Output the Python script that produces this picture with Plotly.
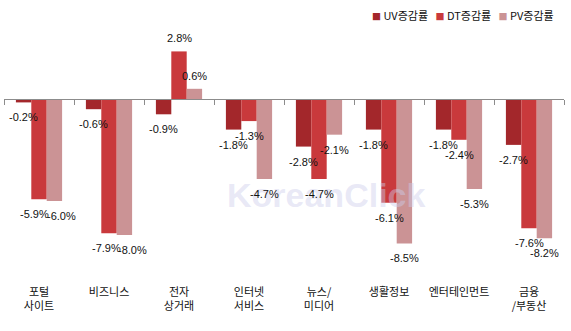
import plotly.graph_objects as go

categories = ["포털<br>사이트", "비즈니스", "전자<br>상거래", "인터넷<br>서비스",
              "뉴스/<br>미디어", "생활정보", "엔터테인먼트", "금융<br>/부동산"]
series_names = ["UV증감률", "DT증감률", "PV증감률"]
uv = [-0.2, -0.6, -0.9, -1.8, -2.8, -1.8, -1.8, -2.7]
dt = [-5.9, -7.9, 2.8, -1.3, -4.7, -6.1, -2.4, -7.6]
pv = [-6.0, -8.0, 0.6, -4.7, -2.1, -8.5, -5.3, -8.2]
colors = ["#A3272B", "#C9393C", "#CB9395"]

FONT = "Noto Sans CJK KR, Malgun Gothic, sans-serif"
LABEL_FONT = "Liberation Sans, Arial, sans-serif"

# styling: label nudges (pixels) for labels that were moved apart in the original
label_nudge = {(1, 0): -5, (2, 0): 7, (1, 1): -3, (2, 1): 8}

W, H = 571, 331
ML, MR, MT, MB = 4, 7, 30, 51
BARGAP = 0.34
plot_w = W - ML - MR
bar_px = plot_w / len(categories) * (1 - BARGAP) / 3

fig = go.Figure()
annotations = []
for i, (name, vals, col) in enumerate(zip(series_names, [uv, dt, pv], colors)):
    fig.add_trace(go.Bar(x=categories, y=vals, name=name, marker_color=col,
                         marker_line_width=0, showlegend=False))
    for j, v in enumerate(vals):
        annotations.append(dict(
            x=categories[j], y=v, xref="x", yref="y", text=f"{v:.1f}%",
            showarrow=False, xanchor="center", yanchor="middle",
            xshift=(i - 1) * bar_px + label_nudge.get((i, j), 0),
            yshift=-15 if v < 0 else 13,
            font=dict(size=11, color="#111111", family=LABEL_FONT)))

# secondary axis for the zero line with category-boundary ticks
fig.add_trace(go.Scatter(x=[-0.5, 7.5], y=[0, 0], xaxis="x2", mode="lines",
                         line=dict(color="rgba(0,0,0,0)"), showlegend=False,
                         hoverinfo="skip"))

ymin, ymax = -10.65, 4.06
zero_frac = (0 - ymin) / (ymax - ymin)

legend_text = "&nbsp;&nbsp;&nbsp;".join(
    f"<span style='color:{c};font-size:9px'>■</span>&nbsp;{n}"
    for n, c in zip(series_names, colors))
annotations.append(dict(text=legend_text, x=1, y=1.06, xref="paper", yref="paper",
                        xanchor="right", yanchor="middle", xshift=-8, showarrow=False,
                        font=dict(size=11, color="#111111", family=FONT)))
annotations.insert(0, dict(text="<b>KoreanClick</b>", x=0.575, y=0.34, xref="paper",
                           yref="paper", showarrow=False,
                           font=dict(size=34, color="rgba(205,205,235,0.45)",
                                     family="Arial, Liberation Sans, sans-serif")))

fig.update_layout(
    width=W, height=H,
    margin=dict(l=ML, r=MR, t=MT, b=MB, autoexpand=False),
    paper_bgcolor="white", plot_bgcolor="white",
    barmode="group", bargap=BARGAP, bargroupgap=0,
    font=dict(family=FONT, size=11, color="#111111"),
    showlegend=False,
    xaxis=dict(showline=False, ticks="", showgrid=False, zeroline=False,
               tickfont=dict(size=11, family=FONT), ticklabelstandoff=4),
    xaxis2=dict(overlaying="x", anchor="free", position=zero_frac, side="bottom",
                range=[-0.5, 7.5], tickvals=[k - 0.5 for k in range(9)],
                showline=True, linecolor="#8C8C8C", linewidth=1,
                ticks="outside", ticklen=5, tickcolor="#8C8C8C",
                showticklabels=False, showgrid=False, zeroline=False),
    yaxis=dict(range=[ymin, ymax], visible=False, showgrid=False, zeroline=False),
    annotations=annotations,
)

fig.write_html("out.html")
